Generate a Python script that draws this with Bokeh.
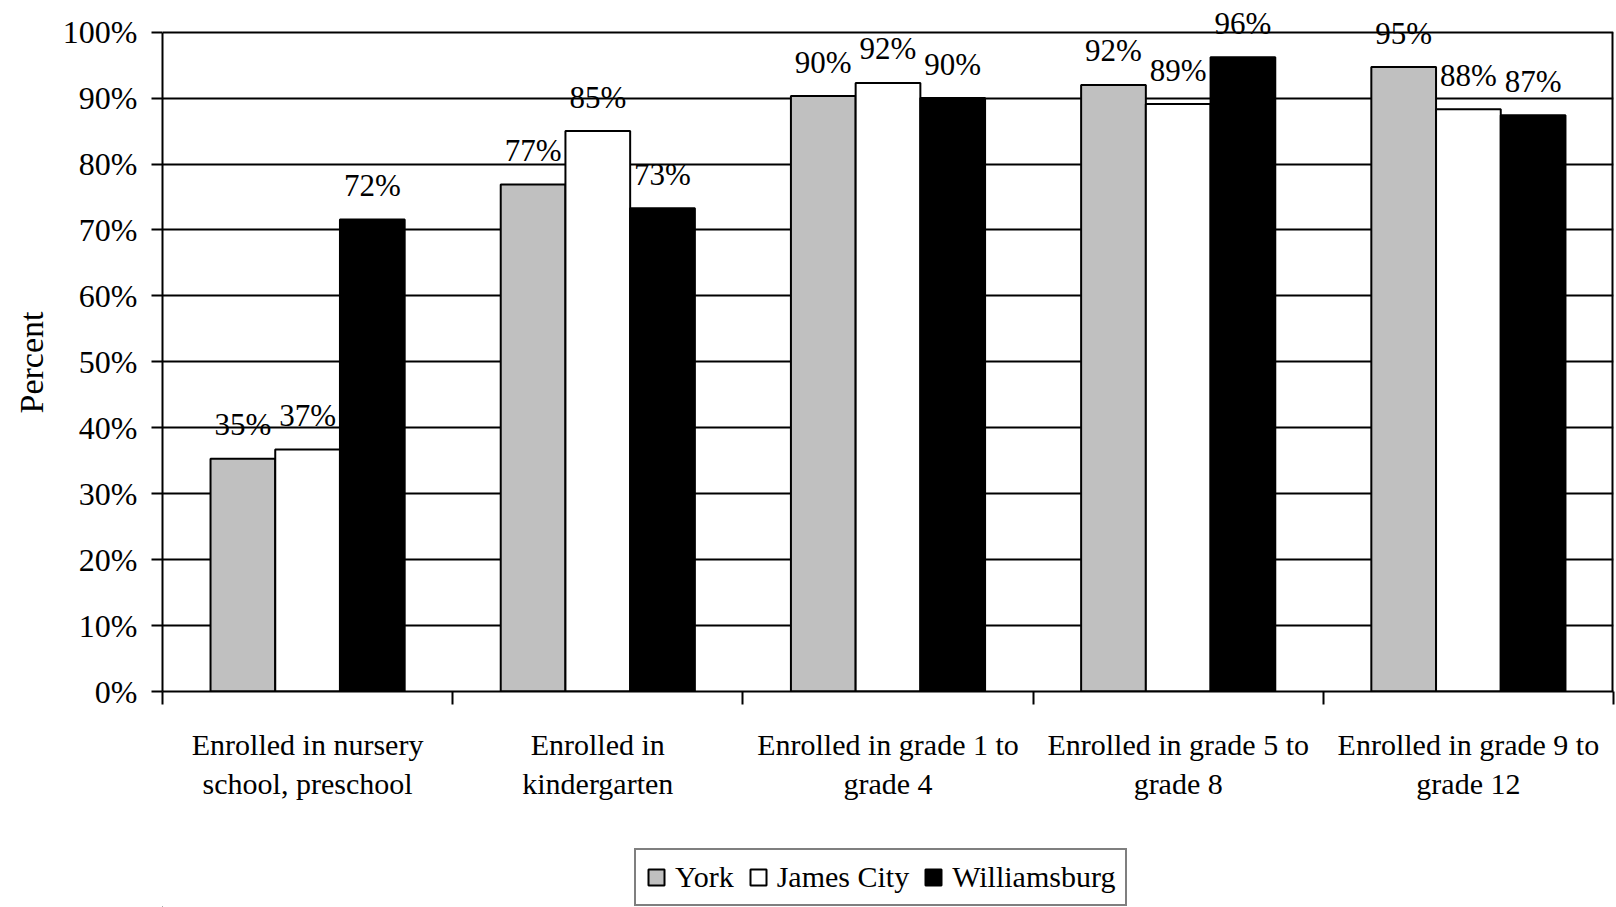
from bokeh.plotting import figure
from bokeh.layouts import column
from bokeh.models import ColumnDataSource, FixedTicker, LabelSet, Legend, LegendItem, Range1d, Title
from bokeh.embed import file_html
from bokeh.resources import INLINE

categories = [
    "Enrolled in nursery\nschool, preschool",
    "Enrolled in\nkindergarten",
    "Enrolled in grade 1 to\ngrade 4",
    "Enrolled in grade 5 to\ngrade 8",
    "Enrolled in grade 9 to\ngrade 12",
]
series_names = ["York", "James City", "Williamsburg"]
york = [35.3, 76.9, 90.3, 92.0, 94.7]
james_city = [36.7, 85.0, 92.3, 89.1, 88.3]
williamsburg = [71.6, 73.3, 90.0, 96.2, 87.4]
series_values = [york, james_city, williamsburg]
series_colors = ["#c0c0c0", "#ffffff", "#000000"]
y_ticks = [0, 10, 20, 30, 40, 50, 60, 70, 80, 90, 100]
y_tick_labels = ["0%", "10%", "20%", "30%", "40%", "50%", "60%", "70%", "80%", "90%", "100%"]
y_title = "Percent"

FONT = "Liberation Serif"
BAR_W = 0.223
n = len(categories)
Y_MAX = y_ticks[-1]

p = figure(width=1616, height=830, x_range=Range1d(0, n), y_range=Range1d(0, 104.8),
           output_backend="svg", toolbar_location=None,
           min_border_left=162, min_border_top=0, min_border_right=3, min_border_bottom=139)
p.background_fill_color = "white"
p.border_fill_color = "white"
p.outline_line_color = None

p.xgrid.grid_line_color = None
p.ygrid.grid_line_color = "black"
p.ygrid.grid_line_width = 2
p.ygrid.ticker = FixedTicker(ticks=y_ticks)

# right border of the plot area
p.segment(x0=[n], y0=[0], x1=[n], y1=[Y_MAX], line_color="black", line_width=4)

for k, (name, vals, col) in enumerate(zip(series_names, series_values, series_colors)):
    xs = [i + 0.5 + (k - 1) * BAR_W for i in range(n)]
    src = ColumnDataSource(dict(x=xs, top=vals, label=[f"{round(v)}%" for v in vals]))
    p.vbar(x="x", top="top", bottom=0, width=BAR_W, source=src,
           fill_color=col, line_color="black", line_width=2)
    p.add_layout(LabelSet(x="x", y="top", text="label", source=src, text_align="center",
                          text_baseline="middle", y_offset=34, text_font=FONT,
                          text_font_size="31px", text_color="black"))

# Y axis
yax = p.yaxis[0]
yax.ticker = FixedTicker(ticks=y_ticks)
yax.bounds = (0, Y_MAX)
yax.major_label_overrides = {t: l for t, l in zip(y_ticks, y_tick_labels)}
yax.major_tick_out = 11
yax.major_tick_in = 0
yax.minor_tick_line_color = None
yax.major_tick_line_width = 2
yax.axis_line_width = 2
yax.major_label_standoff = 14
yax.major_label_text_font = FONT
yax.major_label_text_font_size = "32px"
yax.major_label_text_color = "black"

# Y axis title, centred on the 0-100% span
p.add_layout(Title(text=y_title, align="left", offset=278, standoff=19,
                   text_font=FONT, text_font_size="34px", text_font_style="normal",
                   text_color="black"), "left")

# X axis
centers = [i + 0.5 for i in range(n)]
bounds = [float(i) for i in range(n + 1)]
xax = p.xaxis[0]
xax.ticker = FixedTicker(ticks=centers, minor_ticks=bounds)
xax.major_label_overrides = {c: l for c, l in zip(centers, categories)}
xax.major_tick_line_color = None
xax.major_tick_out = 0
xax.major_tick_in = 0
xax.minor_tick_out = 13
xax.minor_tick_in = 0
xax.minor_tick_line_color = "black"
xax.minor_tick_line_width = 2
xax.axis_line_width = 2
xax.major_label_standoff = 23
xax.major_label_text_font = FONT
xax.major_label_text_font_size = "30px"
xax.major_label_text_color = "black"

# Legend in its own strip below the chart (dummy off-range bars give the swatches)
lf = figure(width=1616, height=77, x_range=Range1d(0, 1), y_range=Range1d(0, 1),
            output_backend="svg", toolbar_location=None,
            min_border_left=0, min_border_right=0, min_border_top=0, min_border_bottom=0)
lf.axis.visible = False
lf.grid.visible = False
lf.outline_line_color = None
lf.background_fill_color = "white"
lf.border_fill_color = "white"
items = []
for name, col in zip(series_names, series_colors):
    r = lf.vbar(x=[-5], top=[0], width=0.1, fill_color=col, line_color="black", line_width=2)
    items.append(LegendItem(label=name, renderers=[r]))
legend = Legend(items=items, location=(472, 1), orientation="horizontal",
                label_text_font=FONT, label_text_font_size="30px", label_text_color="black",
                glyph_width=20, glyph_height=20, label_standoff=9, spacing=14,
                padding=10, margin=0, border_line_color="black", border_line_width=2,
                background_fill_color="white", background_fill_alpha=1.0)
lf.add_layout(legend)

open("out.html", "w").write(file_html(column(p, lf, spacing=0), INLINE))
